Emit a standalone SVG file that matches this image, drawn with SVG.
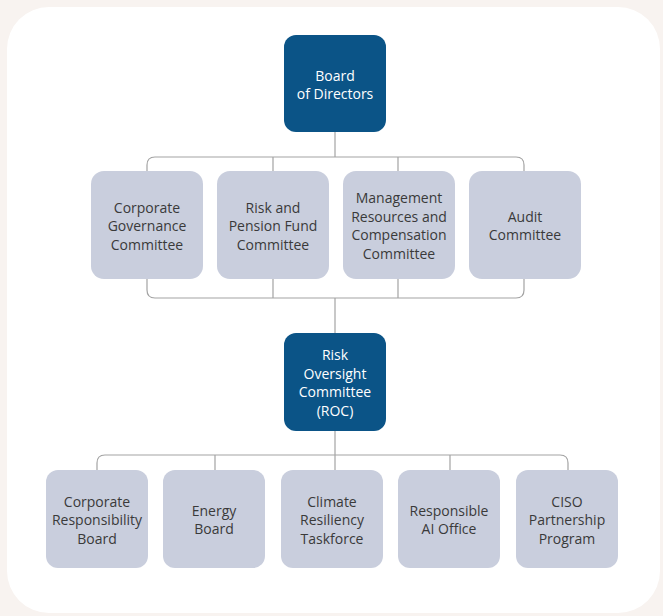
<svg xmlns="http://www.w3.org/2000/svg" width="663" height="616" viewBox="0 0 663 616">
  <style>
    .lead { fill: #0b5487; }
    .unit { fill: #c9cedd; }
    .lbl { font-family: "Open Sans", "Noto Sans", "Liberation Sans", sans-serif; font-size: 14px; text-anchor: middle; dominant-baseline: central; }
    .lead-t { fill: #ffffff; }
    .unit-t { fill: #3a3a3a; }
    .wire { fill: none; stroke: #a3a3a3; stroke-width: 1.2; }
  </style>

  <!-- page and card -->
  <rect x="0" y="0" width="663" height="616" fill="#f8f3f0"/>
  <rect x="7" y="7" width="653" height="606" rx="42" fill="#ffffff"/>

  <!-- connectors -->
  <g id="connectors" class="wire">
    <path d="M335,132 V157"/>
    <path d="M147,171 V165 Q147,157 155,157 H516 Q524,157 524,165 V171"/>
    <path d="M273,157 V171 M398,157 V171"/>
    <path d="M147,279 V290 Q147,298 155,298 H516 Q524,298 524,290 V279"/>
    <path d="M273,279 V298 M398,279 V298"/>
    <path d="M335,298 V333"/>
    <path d="M335,431 V470"/>
    <path d="M97,470 V463 Q97,455 105,455 H560 Q568,455 568,463 V470"/>
    <path d="M215,455 V470 M450,455 V470"/>
  </g>

  <!-- top level -->
  <g id="board">
    <rect class="lead" x="284" y="35" width="102" height="97" rx="12"/>
    <text class="lbl lead-t" x="335"><tspan x="335" y="74.5">Board</tspan><tspan x="335" y="93">of Directors</tspan></text>
  </g>

  <!-- board committees -->
  <g id="corporate-governance">
    <rect class="unit" x="91" y="171" width="112" height="108" rx="13"/>
    <text class="lbl unit-t"><tspan x="147" y="206.5">Corporate</tspan><tspan x="147" y="225">Governance</tspan><tspan x="147" y="243.5">Committee</tspan></text>
  </g>
  <g id="risk-pension">
    <rect class="unit" x="217" y="171" width="112" height="108" rx="13"/>
    <text class="lbl unit-t"><tspan x="273" y="206.5">Risk and</tspan><tspan x="273" y="225">Pension Fund</tspan><tspan x="273" y="243.5">Committee</tspan></text>
  </g>
  <g id="management-resources">
    <rect class="unit" x="343" y="171" width="112" height="108" rx="13"/>
    <text class="lbl unit-t"><tspan x="399" y="197.25">Management</tspan><tspan x="399" y="215.75">Resources and</tspan><tspan x="399" y="234.25">Compensation</tspan><tspan x="399" y="252.75">Committee</tspan></text>
  </g>
  <g id="audit">
    <rect class="unit" x="469" y="171" width="112" height="108" rx="13"/>
    <text class="lbl unit-t"><tspan x="525" y="215.75">Audit</tspan><tspan x="525" y="234.25">Committee</tspan></text>
  </g>

  <!-- oversight -->
  <g id="roc">
    <rect class="lead" x="284" y="333" width="102" height="98" rx="12"/>
    <text class="lbl lead-t"><tspan x="335" y="354.25">Risk</tspan><tspan x="335" y="372.75">Oversight</tspan><tspan x="335" y="391.25">Committee</tspan><tspan x="335" y="409.75">(ROC)</tspan></text>
  </g>

  <!-- working groups -->
  <g id="corporate-responsibility">
    <rect class="unit" x="46" y="470" width="102" height="98" rx="12"/>
    <text class="lbl unit-t"><tspan x="97" y="500.5">Corporate</tspan><tspan x="97" y="519">Responsibility</tspan><tspan x="97" y="537.5">Board</tspan></text>
  </g>
  <g id="energy-board">
    <rect class="unit" x="163" y="470" width="102" height="98" rx="12"/>
    <text class="lbl unit-t"><tspan x="214" y="509.75">Energy</tspan><tspan x="214" y="528.25">Board</tspan></text>
  </g>
  <g id="climate-resiliency">
    <rect class="unit" x="281" y="470" width="102" height="98" rx="12"/>
    <text class="lbl unit-t"><tspan x="332" y="500.5">Climate</tspan><tspan x="332" y="519">Resiliency</tspan><tspan x="332" y="537.5">Taskforce</tspan></text>
  </g>
  <g id="responsible-ai">
    <rect class="unit" x="398" y="470" width="102" height="98" rx="12"/>
    <text class="lbl unit-t"><tspan x="449" y="509.75">Responsible</tspan><tspan x="449" y="528.25">AI Office</tspan></text>
  </g>
  <g id="ciso-partnership">
    <rect class="unit" x="516" y="470" width="102" height="98" rx="12"/>
    <text class="lbl unit-t"><tspan x="567" y="500.5">CISO</tspan><tspan x="567" y="519">Partnership</tspan><tspan x="567" y="537.5">Program</tspan></text>
  </g>
</svg>
